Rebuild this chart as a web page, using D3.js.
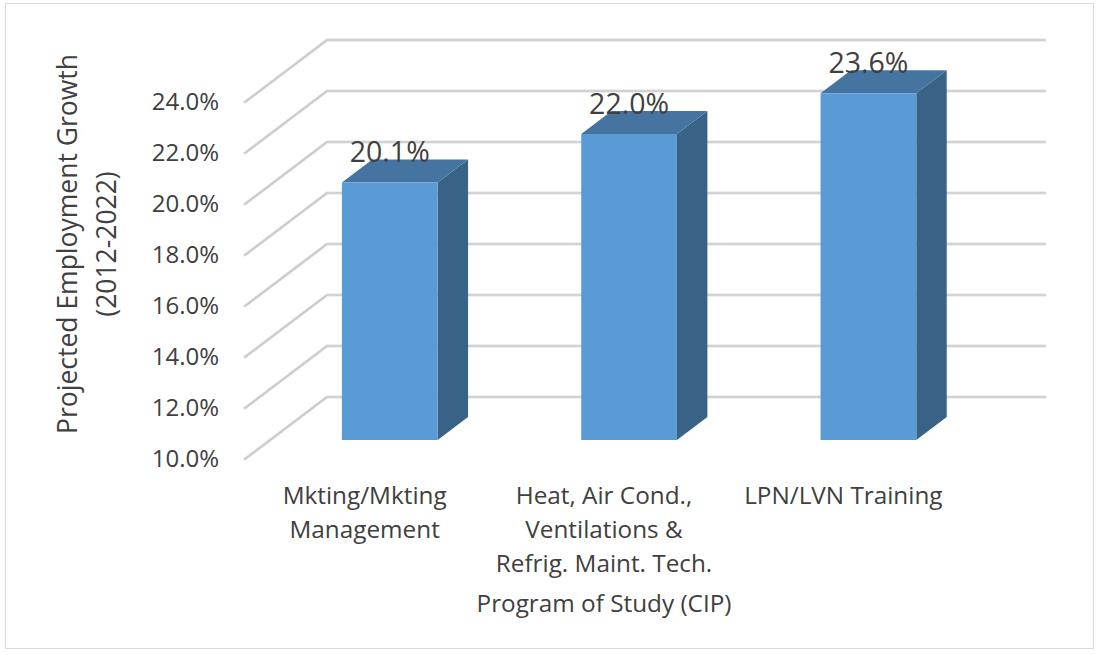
<!DOCTYPE html>
<html>
<head>
<meta charset="utf-8">
<script src="https://cdn.jsdelivr.net/npm/d3@7"></script>
<style>
  html, body { margin: 0; padding: 0; background: #fff; }
  svg { display: block; }
  text { font-family: "Open Sans", sans-serif; fill: #404040; }
</style>
</head>
<body>
<svg id="chart" width="1099" height="655"></svg>
<script>
// Program categories (multi-line labels) and projected growth values (%)
const categories = [
  ["Mkting/Mkting", "Management"],
  ["Heat, Air Cond.,", "Ventilations &", "Refrig. Maint. Tech."],
  ["LPN/LVN Training"]
];
const growth = [20.1, 22.0, 23.6];
const tickValues = [10, 12, 14, 16, 18, 20, 22, 24];
const valueLabels = ["20.1%", "22.0%", "23.6%"];

const svg = d3.select("#chart");

// Outer chart border
svg.append("rect")
  .attr("x", 5.5).attr("y", 3.5).attr("width", 1088).attr("height", 645)
  .attr("fill", "#fff").attr("stroke", "#d9d9d9").attr("stroke-width", 1);

// Oblique 3D projection: front plane + depth offset
const depthDX = 82, depthDY = -62;
const y = d3.scaleLinear().domain([10, 24]).range([459, 102]);
const x = d3.scaleBand()
  .domain(d3.range(categories.length))
  .range([245, 963])
  .paddingInner(0.6)
  .paddingOuter(0.3);
const z = d3.scaleLinear().domain([0, 1]).range([0, 1]);
const proj = (px, v, d) => [px + depthDX * z(d), y(v) + depthDY * z(d)];

// Gridlines: side wall diagonal + back wall horizontal
const grid = svg.append("g");
const backRight = 1045;
const line = d3.line();
tickValues.forEach(t => {
  const b = proj(245, t, 1);
  const pts = [[245, y(t)], b, [backRight, b[1]]];
  grid.append("path").attr("d", line(pts))
    .attr("fill", "none").attr("stroke", "#e0e0e0").attr("stroke-width", 3.2)
    .attr("stroke-linejoin", "round").attr("stroke-linecap", "round");
  grid.append("path").attr("d", line(pts))
    .attr("fill", "none").attr("stroke", "#c4c4c4").attr("stroke-width", 1.2)
    .attr("stroke-linejoin", "round").attr("stroke-linecap", "round");
});

// Y tick labels at the front edge of the side wall
svg.append("g").selectAll("text").data(tickValues).join("text")
  .attr("x", 219).attr("y", d => y(d))
  .attr("dy", "0.35em").attr("text-anchor", "end")
  .attr("font-size", 24)
  .text(d => d3.format(".1f")(d) + "%");

// Bars as 3D prisms
const z0 = 0.306, z1 = 0.677;
const bars = svg.append("g");
const poly = pts => pts.map(p => p.join(",")).join(" ");
growth.forEach((v, i) => {
  const xl = x(i), xr = x(i) + x.bandwidth();
  // side face
  bars.append("polygon").attr("points", poly([
    proj(xr, 10, z0), proj(xr, 10, z1), proj(xr, v, z1), proj(xr, v, z0)
  ])).attr("fill", "#386387");
  // top face
  bars.append("polygon").attr("points", poly([
    proj(xl, v, z0), proj(xr, v, z0), proj(xr, v, z1), proj(xl, v, z1)
  ])).attr("fill", "#44749f");
  // front face
  bars.append("polygon").attr("points", poly([
    proj(xl, 10, z0), proj(xr, 10, z0), proj(xr, v, z0), proj(xl, v, z0)
  ])).attr("fill", "#5b9bd5");
});

// Value labels above each bar
svg.append("g").selectAll("text").data(growth).join("text")
  .attr("x", (d, i) => proj(x(i) + x.bandwidth() / 2, d, z0)[0])
  .attr("y", (d, i) => proj(0, d, z0)[1] - 30)
  .attr("dy", "0.35em").attr("text-anchor", "middle")
  .attr("font-size", 28.5).attr("fill", "#333")
  .text((d, i) => valueLabels[i]);

// Category labels along the front floor edge
const catG = svg.append("g");
categories.forEach((lines, i) => {
  const cx = x(i) + x.bandwidth() / 2;
  const t = catG.append("text").attr("text-anchor", "middle").attr("font-size", 24.3);
  lines.forEach((ln, j) => {
    t.append("tspan").attr("x", cx).attr("y", 495 + j * 34).attr("dy", "0.35em").text(ln);
  });
});

// X axis title
svg.append("text").attr("x", 604).attr("y", 603).attr("dy", "0.35em")
  .attr("text-anchor", "middle").attr("font-size", 24.3)
  .text("Program of Study (CIP)");

// Y axis title (two lines, rotated)
const yt = svg.append("text").attr("transform", "translate(0,244) rotate(-90)")
  .attr("text-anchor", "middle").attr("font-size", 26.5);
yt.append("tspan").attr("x", 0).attr("y", 68).attr("dy", "0.35em").text("Projected Employment Growth");
yt.append("tspan").attr("x", 0).attr("y", 107).attr("dy", "0.35em").text("(2012-2022)");
</script>
</body>
</html>
